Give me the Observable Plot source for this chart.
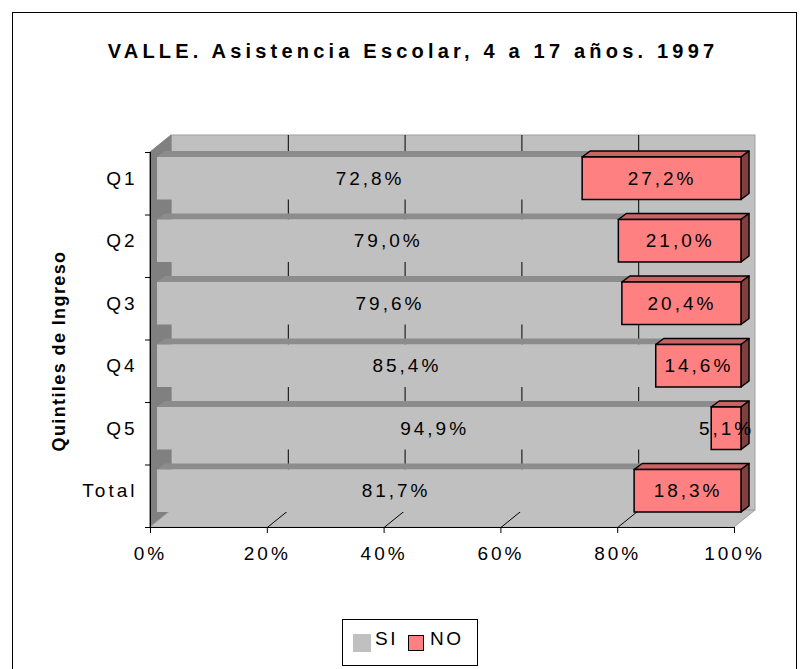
<!DOCTYPE html>
<html><head><meta charset="utf-8">
<script src="https://cdn.jsdelivr.net/npm/d3@7"></script>
<script src="https://cdn.jsdelivr.net/npm/@observablehq/plot@0.6"></script>
<style>
html,body{margin:0;padding:0;background:#fff;overflow:hidden;}
#wrap{position:relative;width:804px;height:669px;overflow:hidden;font-family:"Liberation Sans",Arial,sans-serif;color:#000;}
#chart{position:absolute;left:0;top:0;}
#chart text{letter-spacing:3px;}
#border{position:absolute;left:12px;top:12px;width:783px;height:700px;border:1px solid #000;pointer-events:none;}
#title{position:absolute;left:0;width:826px;top:40px;text-align:center;font-weight:bold;font-size:20px;line-height:22px;letter-spacing:4.2px;white-space:nowrap;}
#ytitle{position:absolute;left:-71px;top:340px;width:260px;text-align:center;font-weight:bold;font-size:18px;line-height:22px;letter-spacing:1.4px;transform:rotate(-90deg);transform-origin:50% 50%;white-space:nowrap;}
#legend{position:absolute;left:342px;top:619px;width:134px;height:45px;border:1px solid #000;background:#fff;}
.sw{position:absolute;box-sizing:border-box;}
.lt{position:absolute;font-size:19px;line-height:22px;letter-spacing:2.5px;}
</style></head>
<body>
<div id="wrap">
  <div id="chart"></div>
  <div id="border"></div>
  <div id="title"></div>
  <div id="ytitle"></div>
  <div id="legend"></div>
</div>
<script>
// ---- data ----
const categories = ["Q1", "Q2", "Q3", "Q4", "Q5", "Total"];
const siValues = [72.8, 79.0, 79.6, 85.4, 94.9, 81.7];
const noValues = [27.2, 21.0, 20.4, 14.6, 5.1, 18.3];
const xTicks = [0, 20, 40, 60, 80, 100];
const seriesNames = ["SI", "NO"];
const seriesColors = ["#c0c0c0", "#ff8080"];
const titleText = "VALLE. Asistencia Escolar, 4 a 17 años. 1997";
const yTitleText = "Quintiles de Ingreso";

// ---- layout ----
const W = 804, H = 669, ML = 150, MR = 70, MT = 152, MB = 142;
const pxX = 100 / (W - ML - MR);          // data units per pixel (x)
const pxY = categories.length / (H - MT - MB); // data units per pixel (y)
const WALL = [21, 17];      // wall depth offset in px
const BOFF = [7, -5];       // bar front face offset in px
const BDEP = [8, 6];        // bar depth in px
const HALF = 0.34;          // half bar thickness (band units)

const fmt = v => v.toFixed(1).replace(".", ",") + "%";

const segs = [];
categories.forEach((c, i) => {
  segs.push({cat: c, i, series: "SI", x1: 0, x2: siValues[i], v: siValues[i]});
  segs.push({cat: c, i, series: "NO", x1: siValues[i], x2: siValues[i] + noValues[i], v: noValues[i]});
});
const tops = segs.flatMap(s => [
  {key: s.series + s.i, series: s.series, y: s.i - HALF, x1: s.x1, x2: s.x2},
  {key: s.series + s.i, series: s.series, y: s.i - HALF - BDEP[1] * pxY, x1: s.x1 + BDEP[0] * pxX, x2: s.x2 + BDEP[0] * pxX}
]);
const sides = segs.filter(s => s.series === "NO").flatMap(s => [
  {key: "s" + s.i, x: s.x2, y1: s.i - HALF, y2: s.i + HALF},
  {key: "s" + s.i, x: s.x2 + BDEP[0] * pxX, y1: s.i - HALF - BDEP[1] * pxY, y2: s.i + HALF - BDEP[1] * pxY}
]);
const y0 = -0.5, y1 = categories.length - 0.5;
const wall = [{x1: 0, x2: 100, y1: y0, y2: y1}];
const leftWall = [
  {x: 0, y1: y0, y2: y1},
  {x: WALL[0] * pxX, y1: y0 - WALL[1] * pxY, y2: y1 - WALL[1] * pxY}
];
const floor = [
  {y: y1, x1: 0, x2: 100},
  {y: y1 - WALL[1] * pxY, x1: WALL[0] * pxX, x2: 100 + WALL[0] * pxX}
];
const grid = xTicks.slice(1, -1);

const barOpts = {dx: BOFF[0], dy: BOFF[1]};
const plot = Plot.plot({
  width: W, height: H,
  marginLeft: ML, marginRight: MR, marginTop: MT, marginBottom: MB,
  style: {background: "transparent", fontFamily: "'Liberation Sans', Arial, sans-serif", fontSize: "19px", overflow: "visible"},
  x: {domain: [0, 100], label: null},
  y: {type: "linear", domain: [y0, y1], range: [MT, H - MB], label: null},
  marks: [
    // back wall
    Plot.rect(wall, {x1: "x1", x2: "x2", y1: "y1", y2: "y2", dx: WALL[0], dy: -WALL[1], fill: "#c0c0c0", stroke: "#a0a0a0"}),
    Plot.ruleX(grid, {x: d => d, y1: () => y0, y2: () => y1, dx: WALL[0], dy: -WALL[1], stroke: "#000", strokeWidth: 1}),
    // left wall
    Plot.areaY(leftWall, {x: "x", y1: "y1", y2: "y2", fill: "#808080", stroke: "#808080"}),
    // floor
    Plot.areaX(floor, {y: "y", x1: "x1", x2: "x2", fill: "#c0c0c0", stroke: "#a0a0a0"}),
    Plot.link(grid, {x1: d => d, y1: () => y1, x2: d => d + WALL[0] * pxX, y2: () => y1 - WALL[1] * pxY, stroke: "#000"}),
    // SI bars
    Plot.areaX(tops.filter(d => d.series === "SI"), {y: "y", x1: "x1", x2: "x2", z: "key", fill: "#8c8c8c", ...barOpts}),
    Plot.rect(segs.filter(d => d.series === "SI"), {x1: "x1", x2: "x2", y1: d => d.i - HALF, y2: d => d.i + HALF, fill: seriesColors[0], ...barOpts}),
    // NO bars
    Plot.areaX(tops.filter(d => d.series === "NO"), {y: "y", x1: "x1", x2: "x2", z: "key", fill: "#c86464", stroke: "#000", strokeWidth: 1.5, ...barOpts}),
    Plot.areaY(sides, {x: "x", y1: "y1", y2: "y2", z: "key", fill: "#804040", stroke: "#000", strokeWidth: 1.5, ...barOpts}),
    Plot.rect(segs.filter(d => d.series === "NO"), {x1: "x1", x2: "x2", y1: d => d.i - HALF, y2: d => d.i + HALF, fill: seriesColors[1], stroke: "#000", strokeWidth: 1.5, ...barOpts}),
    // axes
    Plot.ruleX([0], {stroke: "#000"}),
    Plot.ruleY([y1], {stroke: "#000"}),
    Plot.axisY(d3.range(y0, y1 + 0.01, 1), {tickSize: 5, tickFormat: () => "", label: null}),
    Plot.axisY(categories.map((c, i) => i), {tickSize: 0, tickPadding: 13, tickFormat: i => categories[i], fontSize: 19, dy: -5, label: null}),
    Plot.axisX(xTicks, {tickSize: 6, tickPadding: 13, tickFormat: d => d + "%", fontSize: 19, label: null}),
    // value labels
    Plot.text(segs, {x: d => (d.x1 + d.x2) / 2, y: "i", text: d => fmt(d.v), fontSize: 19, fill: "#000", ...barOpts})
  ]
});
document.getElementById("chart").appendChild(plot);
document.getElementById("title").textContent = titleText;
document.getElementById("ytitle").textContent = yTitleText;

// legend
const wrap = document.getElementById("wrap");
const legendItems = [
  {name: seriesNames[0], color: seriesColors[0], sw: [353, 634, 18, 18, false], tx: 375},
  {name: seriesNames[1], color: seriesColors[1], sw: [408, 635, 16, 16, true], tx: 430}
];
legendItems.forEach(it => {
  const s = document.createElement("div");
  s.className = "sw";
  s.style.left = it.sw[0] + "px"; s.style.top = it.sw[1] + "px";
  s.style.width = it.sw[2] + "px"; s.style.height = it.sw[3] + "px";
  s.style.background = it.color;
  if (it.sw[4]) s.style.border = "1.5px solid #000";
  wrap.appendChild(s);
  const t = document.createElement("div");
  t.className = "lt";
  t.style.left = it.tx + "px"; t.style.top = "628px";
  t.textContent = it.name;
  wrap.appendChild(t);
});
</script>
</body></html>
